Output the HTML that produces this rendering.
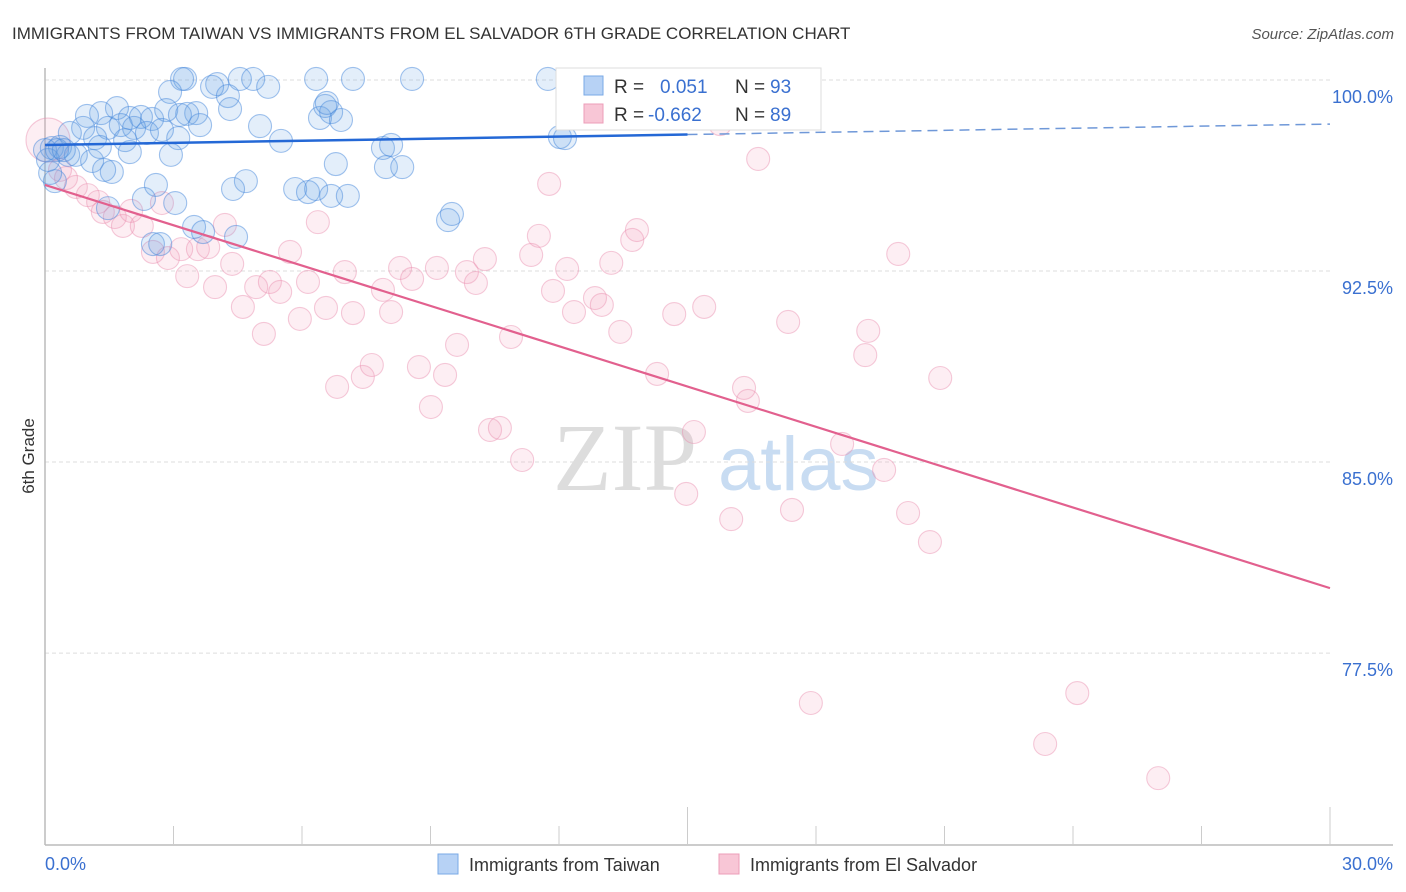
<!DOCTYPE html>
<html><head><meta charset="utf-8"><style>
body{margin:0;background:#fff;font-family:"Liberation Sans",sans-serif}
svg{display:block}
</style></head><body>
<svg width="1406" height="892" xmlns="http://www.w3.org/2000/svg">
<text x="12" y="39" font-size="17" fill="#333">IMMIGRANTS FROM TAIWAN VS IMMIGRANTS FROM EL SALVADOR 6TH GRADE CORRELATION CHART</text>
<text x="1394" y="39" font-size="15" fill="#555" font-style="italic" text-anchor="end">Source: ZipAtlas.com</text>
<g>
<text x="553" y="490" font-size="96" font-family="Liberation Serif,serif" fill="#ddd">ZIP</text>
<text x="718" y="490" font-size="76" fill="#c8dcf2">atlas</text>
</g>
<g id="grid"></g>
<g id="axes"></g>
<text transform="translate(34,456) rotate(-90)" font-size="17" fill="#333" text-anchor="middle">6th Grade</text>
<g id="marks"></g>
<g id="trends"></g>
<g>
<rect x="556" y="68" width="265" height="62" fill="#fff" stroke="#ddd"/>
<rect x="584" y="76" width="19" height="19" fill="#b7d2f5" stroke="#7aa9e6"/>
<rect x="584" y="104" width="19" height="19" fill="#f8c6d6" stroke="#ec9db8"/>
<text x="614" y="93" font-size="19" fill="#333">R = </text><text x="660" y="93" font-size="19" fill="#3a70d0">0.051</text>
<text x="735" y="93" font-size="19" fill="#333">N = </text><text x="770" y="93" font-size="19" fill="#3a70d0">93</text>
<text x="614" y="121" font-size="19" fill="#333">R = </text><text x="648" y="121" font-size="19" fill="#3a70d0">-0.662</text>
<text x="735" y="121" font-size="19" fill="#333">N = </text><text x="770" y="121" font-size="19" fill="#3a70d0">89</text>
</g>
<g>
<rect x="438" y="854" width="20" height="20" fill="#b7d2f5" stroke="#7aa9e6"/>
<text x="469" y="871" font-size="18" fill="#333">Immigrants from Taiwan</text>
<rect x="719" y="854" width="20" height="20" fill="#f8c6d6" stroke="#ec9db8"/>
<text x="750" y="871" font-size="18" fill="#333">Immigrants from El Salvador</text>
</g>
</svg>
<script>
const yTicks=[100,92.5,85,77.5];
const yTickLabels=["100.0%","92.5%","85.0%","77.5%"];
const xTickLabels=["0.0%","30.0%"];
const taiwanX=[3.27,3.20,4.02,4.55,4.86,5.21,6.33,7.19,8.57,11.74,2.92,3.90,4.27,4.32,3.53,1.68,1.31,0.98,1.98,2.24,2.50,2.83,3.15,3.32,3.62,5.02,1.47,1.77,2.08,2.38,2.73,3.11,0.89,0.58,1.17,1.87,0.16,0.35,0.54,0.72,1.10,1.28,1.56,1.38,1.98,2.94,5.51,6.42,6.54,6.68,6.91,6.58,7.89,8.08,6.79,7.96,8.34,4.69,4.39,2.59,3.04,1.47,2.31,5.84,6.14,6.33,6.68,7.07,9.41,9.50,3.48,3.69,4.46,2.52,2.69,12.02,12.14,0.23,0.12,0.07,0.0,0.28,0.44];
const taiwanY=[100.04,100.04,99.84,100.04,100.04,99.73,100.04,100.04,100.04,100.04,99.53,99.73,99.37,98.86,98.70,98.90,98.70,98.59,98.51,98.55,98.47,98.82,98.63,98.67,98.23,98.19,98.12,98.23,98.12,97.92,98.04,97.72,98.12,97.92,97.72,97.64,97.33,97.37,97.06,97.06,96.82,97.37,96.39,96.47,97.17,97.06,97.61,98.51,98.98,98.74,98.43,99.10,97.33,97.45,96.70,96.58,96.58,96.03,95.72,95.88,95.17,94.97,95.33,95.72,95.60,95.72,95.45,95.45,94.50,94.74,94.23,94.03,93.84,93.56,93.56,97.76,97.72,96.03,96.35,96.86,97.25,97.25,97.25];
const salvX=[0.07,0.35,0.49,0.72,1.00,1.24,1.35,1.63,1.82,2.01,2.26,2.52,2.87,2.73,3.18,3.32,3.57,3.81,3.97,4.20,4.37,4.62,4.93,5.11,5.25,5.49,5.72,5.95,6.14,6.37,6.56,6.82,7.00,7.19,7.42,7.63,7.89,8.08,8.29,8.57,8.73,9.01,9.15,9.34,9.62,9.85,10.06,10.27,10.39,10.62,10.88,11.14,11.35,11.53,11.77,11.86,12.19,12.35,12.84,13.00,13.22,13.43,13.71,13.82,14.29,14.69,14.97,15.15,15.39,15.76,16.02,16.32,16.41,16.65,17.35,17.44,17.88,18.61,19.15,19.22,19.59,19.92,20.15,20.66,20.90,23.35,24.10,25.99];
const salvY=[97.64,96.47,96.15,95.80,95.48,95.21,94.82,94.62,94.27,94.86,94.27,93.25,93.01,95.17,93.36,92.30,93.36,93.44,91.87,94.31,92.78,91.09,91.87,90.03,92.07,91.68,93.25,90.62,92.07,94.42,91.05,87.95,92.46,90.85,88.34,88.81,91.76,90.89,92.62,92.19,88.73,87.16,92.62,88.42,89.60,92.46,92.03,92.97,86.26,86.34,89.91,85.08,93.13,93.88,95.92,91.72,92.58,90.89,91.44,91.17,92.82,90.11,93.72,94.11,88.46,90.81,83.75,86.18,91.09,98.27,82.76,87.91,87.40,96.90,90.50,83.12,75.54,85.71,89.20,90.15,84.69,93.17,83.00,81.86,88.30,73.93,75.93,72.59];
const taiwanTrend=[97.45,98.27];
const salvTrend=[95.88,80.05];
const NS="http://www.w3.org/2000/svg";
const X=v=>45+v*42.833, Y=v=>80+(100-v)*25.47;
function mk(tag,attrs,parent){const e=document.createElementNS(NS,tag);for(const k in attrs)e.setAttribute(k,attrs[k]);parent.appendChild(e);return e;}
const grid=document.getElementById('grid'),axes=document.getElementById('axes'),marks=document.getElementById('marks'),trends=document.getElementById('trends');
yTicks.forEach((t,i)=>{
 const l=mk('line',{x1:45,x2:1330,y1:Y(t),y2:Y(t),stroke:'#ddd','stroke-dasharray':'4,3'},grid);
 
 
 const tx=mk('text',{x:1393,y:Y(t)+23,'font-size':18,fill:'#3a70d0','text-anchor':'end'},grid);
 tx.textContent=yTickLabels[i];
 
 
});
const ax=mk('line',{x1:45,x2:1393,y1:845,y2:845,stroke:'#bbb','stroke-width':1.5},axes);


const ay=mk('line',{x1:45,x2:45,y1:68,y2:845,stroke:'#bbb','stroke-width':1.5},axes);


for(let i=1;i<=10;i++){const xv=i*3;const tk=mk('line',{x1:X(xv),x2:X(xv),y1:(i%5==0)?807:826,y2:845,stroke:'#ccc'},axes);
 
 }
[[0,'start',45],[30,'end',1393]].forEach((d,i)=>{const t=mk('text',{x:d[2],y:870,'font-size':18,fill:'#3a70d0','text-anchor':d[1]},axes);t.textContent=xTickLabels[i];
 
 });
salvX.forEach((x,i)=>{const c=mk('circle',{cx:X(x),cy:Y(salvY[i]),r:i==0?22:11.5,fill:'rgba(245,160,190,0.18)',stroke:'rgba(232,140,172,0.45)','stroke-width':1.1},marks);
 
 });
taiwanX.forEach((x,i)=>{const c=mk('circle',{cx:X(x),cy:Y(taiwanY[i]),r:11.5,fill:'rgba(100,160,230,0.18)',stroke:'rgba(70,135,220,0.5)','stroke-width':1.1},marks);
 
 });
const tAt=x=>taiwanTrend[0]+(taiwanTrend[1]-taiwanTrend[0])*x/30;
const t1=mk('line',{x1:X(0),y1:Y(tAt(0)),x2:X(15),y2:Y(tAt(15)),stroke:'#2468d6','stroke-width':2.5},trends);


const t2=mk('line',{x1:X(15),y1:Y(tAt(15)),x2:X(30),y2:Y(tAt(30)),stroke:'#6f98d8','stroke-width':1.5,'stroke-dasharray':'10,6'},trends);


const t3=mk('line',{x1:X(0),y1:Y(salvTrend[0]),x2:X(30),y2:Y(salvTrend[1]),stroke:'#e2608e','stroke-width':2.2},trends);


</script>
</body></html>
